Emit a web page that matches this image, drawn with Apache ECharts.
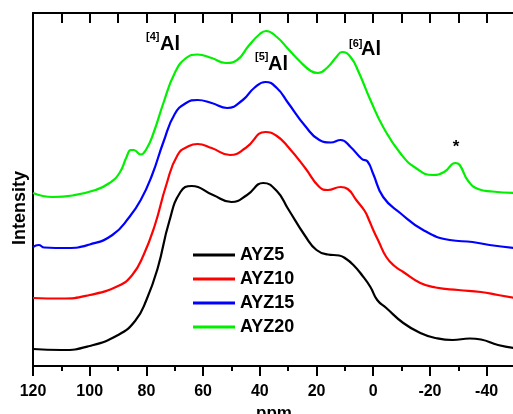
<!DOCTYPE html>
<html>
<head>
<meta charset="utf-8">
<script src="https://cdn.jsdelivr.net/npm/echarts@6/dist/echarts.min.js"></script>
<style>
  html, body { margin: 0; padding: 0; background: #fff; }
  #chart { width: 513px; height: 414px; }
</style>
</head>
<body>
<div id="chart"></div>
<script>
// 化学位移 (ppm) 与强度 (任意单位)
const seriesNames = ['AYZ5', 'AYZ10', 'AYZ15', 'AYZ20'];
const seriesColors = ['#000000', '#ff0000', '#0000ff', '#00f000'];
const majorTicks = [120, 100, 80, 60, 40, 20, 0, -20, -40];

const ppmAYZ5 = [120, 110, 100, 90, 84, 80, 76, 72, 68, 64, 56.5, 50, 44.5, 38.8, 34, 30, 24, 20, 16, 12, 9.5, 7, 4, 1, -1.4, -4.6, -10.6, -16.6, -22, -28, -34, -38, -44, -50];
const intAYZ5 = [17, 16, 20, 31, 45, 66, 98, 144, 174, 180, 171, 164, 171, 183, 175, 157, 130, 116, 111.5, 110.5, 107, 101, 91, 79, 66, 58, 43, 33, 28, 26, 27.5, 26.5, 21, 18];

const ppmAYZ10 = [120, 110, 100, 90, 85, 81, 77, 73, 69, 65, 62, 57, 50.5, 45, 38, 34, 30, 24, 19, 16, 11.5, 9, 6, 3, 1.5, 0, -2, -4.6, -7.5, -10.6, -16.6, -22, -30, -38, -44, -50];
const intAYZ10 = [68, 67.5, 71, 80, 91, 111, 141, 181, 211, 220, 222, 218, 211, 218, 234, 230, 219, 198, 179, 176, 179, 177, 166, 155, 146, 136, 124, 109, 100, 94, 83, 78.5, 76, 74, 71, 68];

const ppmAYZ15 = [120, 118, 116, 108, 100, 92, 86, 82, 78, 74, 70, 66, 62, 57, 51.5, 46, 42, 38, 34, 30, 24, 19, 15, 11.5, 8, 4, 2, 0, -3.5, -9.5, -17.6, -27, -35, -41, -50];
const intAYZ15 = [119, 121, 118.5, 118, 121.5, 131, 149, 166, 191, 224, 252, 263, 266, 263, 258, 266, 278, 284, 278, 263, 240, 226, 223.5, 226, 219, 207, 204.5, 192, 169, 153, 136, 126, 124, 121, 118];

const ppmAYZ20 = [120, 113, 106, 98, 93, 89.5, 87, 85.5, 84.5, 82, 80, 77.5, 74, 70, 66, 62, 57, 52, 48, 44, 40, 37.8, 34, 30, 26, 22, 19.5, 16, 13, 11, 8, 5, 1, -3.5, -9.5, -15, -21, -25, -29, -30.5, -33.5, -37, -42, -50];
const intAYZ20 = [173, 169, 170.5, 176, 183, 193, 209, 216, 216, 211.5, 217, 233, 263, 293, 308, 311.5, 308, 303, 306, 320, 332, 335, 329, 317, 305, 295, 293, 299, 309, 314, 309, 293, 266, 239, 213, 198, 191, 194, 203, 201, 185, 177, 174.5, 173];

const ppmList = [ppmAYZ5, ppmAYZ10, ppmAYZ15, ppmAYZ20];
const intList = [intAYZ5, intAYZ10, intAYZ15, intAYZ20];

const font = 'Liberation Sans, Arial, sans-serif';

const series = seriesNames.map(function (name, i) {
    return {
        name: name,
        type: 'line',
        xAxisIndex: 0,
        yAxisIndex: 0,
        data: ppmList[i].map(function (p, k) { return [p, intList[i][k]]; }),
        smooth: 0.5,
        symbol: 'none',
        lineStyle: { color: seriesColors[i], width: 2.2 },
        itemStyle: { color: seriesColors[i] }
    };
});

const option = {
    animation: false,
    backgroundColor: '#fff',
    grid: { left: 33, top: 13, width: 482, height: 353, outerBoundsMode: 'none', containLabel: false },
    legend: {
        data: seriesNames,
        orient: 'vertical',
        left: 193,
        top: 243,
        padding: 0,
        icon: 'rect',
        itemWidth: 42,
        itemHeight: 3,
        itemGap: 0,
        textStyle: { fontFamily: font, fontSize: 18, fontWeight: 'bold', color: '#000', lineHeight: 24 }
    },
    xAxis: [
        {
            // 底部主刻度和标签
            type: 'value', position: 'bottom', inverse: true,
            min: -50, max: 120,
            name: 'ppm', nameLocation: 'middle', nameGap: 28,
            nameTextStyle: { fontFamily: font, fontSize: 17, fontWeight: 'bold', color: '#000' },
            axisLine: { show: true, onZero: false, lineStyle: { color: '#000', width: 2 } },
            axisTick: { show: true, customValues: majorTicks, length: 10, lineStyle: { color: '#000', width: 2 } },
            axisLabel: { customValues: majorTicks, margin: 18, fontFamily: font, fontSize: 16, fontWeight: 'bold', color: '#000' },
            splitLine: { show: false }
        },
        {
            // 底部次刻度
            type: 'value', position: 'bottom', inverse: true,
            min: -50, max: 120, interval: 10,
            axisLine: { show: false, onZero: false },
            axisTick: { show: true, length: 5, lineStyle: { color: '#000', width: 2 } },
            axisLabel: { show: false },
            splitLine: { show: false }
        },
        {
            // 顶部边框
            type: 'value', position: 'top', inverse: true,
            min: -50, max: 120, interval: 10,
            axisLine: { show: true, onZero: false, lineStyle: { color: '#000', width: 2 } },
            axisTick: { show: true, inside: true, length: 10, lineStyle: { color: '#000', width: 2 } },
            axisLabel: { show: false },
            splitLine: { show: false }
        }
    ],
    yAxis: {
        type: 'value', min: 0, max: 353, position: 'left',
        axisLine: { show: true, onZero: false, lineStyle: { color: '#000', width: 2 } },
        axisTick: { show: false },
        axisLabel: { show: false },
        splitLine: { show: false }
    },
    graphic: [
        { type: 'text', left: 11, top: 171, rotation: Math.PI / 2,
          style: { text: 'Intensity', fontFamily: font, fontSize: 18, fontWeight: 'bold', fill: '#000' } },
        { type: 'text', x: 146, y: 31, style: { text: '[4]', fontFamily: font, fontSize: 11, fontWeight: 'bold', fill: '#000' } },
        { type: 'text', x: 160, y: 34, style: { text: 'Al', fontFamily: font, fontSize: 20, fontWeight: 'bold', fill: '#000' } },
        { type: 'text', x: 255, y: 51, style: { text: '[5]', fontFamily: font, fontSize: 11, fontWeight: 'bold', fill: '#000' } },
        { type: 'text', x: 268, y: 54, style: { text: 'Al', fontFamily: font, fontSize: 20, fontWeight: 'bold', fill: '#000' } },
        { type: 'text', x: 349, y: 38, style: { text: '[6]', fontFamily: font, fontSize: 11, fontWeight: 'bold', fill: '#000' } },
        { type: 'text', x: 361, y: 39, style: { text: 'Al', fontFamily: font, fontSize: 20, fontWeight: 'bold', fill: '#000' } },
        { type: 'text', x: 456, y: 147, style: { text: '*', fontFamily: font, fontSize: 17, fontWeight: 'bold', fill: '#000', align: 'center', verticalAlign: 'middle' } }
    ],
    series: series
};

const chart = echarts.init(document.getElementById('chart'));
chart.setOption(option);
</script>
</body>
</html>
